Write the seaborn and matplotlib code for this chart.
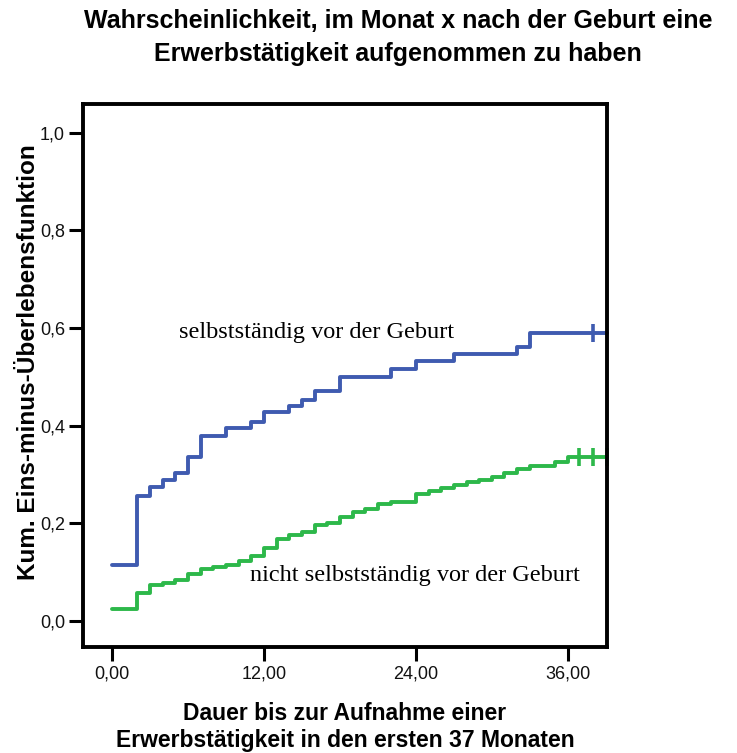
import numpy as np
import pandas as pd
import matplotlib.pyplot as plt
import matplotlib.ticker as mticker
import seaborn as sns

# Kaplan-Meier (1 - S(t)) step values
selb_t = [0, 2, 3, 4, 5, 6, 7, 9, 11, 12, 14, 15, 16, 18, 22, 24, 27, 32, 33]
selb_p = [0.115, 0.256, 0.275, 0.289, 0.303, 0.336, 0.379, 0.395, 0.408, 0.428,
          0.440, 0.453, 0.471, 0.500, 0.516, 0.533, 0.547, 0.561, 0.590]
selb_censor = [38.0]

nicht_t = [0, 2, 3, 4, 5, 6, 7, 8, 9, 10, 11, 12, 13, 14, 15, 16, 17, 18, 19, 20,
           21, 22, 24, 25, 26, 27, 28, 29, 30, 31, 32, 33, 35, 36]
nicht_p = [0.024, 0.058, 0.074, 0.079, 0.085, 0.096, 0.106, 0.110, 0.115, 0.123,
           0.133, 0.149, 0.168, 0.176, 0.182, 0.197, 0.201, 0.213, 0.223, 0.230,
           0.240, 0.244, 0.260, 0.266, 0.272, 0.279, 0.285, 0.289, 0.295, 0.303,
           0.311, 0.318, 0.326, 0.336]
nicht_censor = [36.9, 38.0, 39.1]

t_end = 39.1
x_ticks = [0, 12, 24, 36]
y_ticks = [0.0, 0.2, 0.4, 0.6, 0.8, 1.0]

blue = '#3F5BB0'
green = '#2DB84A'

sns.set_style('white')
plt.rcParams['font.family'] = ['Liberation Sans', 'DejaVu Sans']
plt.rcParams['text.color'] = 'black'
plt.rcParams['axes.labelcolor'] = 'black'

fig = plt.figure(figsize=(7.37, 7.53), dpi=100)
ax = fig.add_axes([83 / 737, 106 / 753, 524 / 737, 543 / 753])


def step_frame(t, p):
    return pd.DataFrame({'t': t + [t_end], 'p': p + [p[-1]]})


for t, p, cens, col in [(selb_t, selb_p, selb_censor, blue),
                        (nicht_t, nicht_p, nicht_censor, green)]:
    d = step_frame(t, p)
    sns.lineplot(data=d, x='t', y='p', drawstyle='steps-post', estimator=None,
                 color=col, lw=2.8, ax=ax, clip_on=False)
    ax.plot(cens, [p[-1]] * len(cens), ls='none', marker='|', ms=13, mew=2.6,
            color=col, clip_on=False)

ax.set_xlim(-2.3, t_end)
ax.set_ylim(-0.053, 1.059)
ax.set_xticks(x_ticks)
ax.set_yticks(y_ticks)
ax.xaxis.set_major_formatter(mticker.FuncFormatter(lambda v, _: f'{v:.2f}'.replace('.', ',')))
ax.yaxis.set_major_formatter(mticker.FuncFormatter(lambda v, _: f'{v:.1f}'.replace('.', ',')))
ax.tick_params(direction='out', length=10, width=2.2, color='black',
               labelsize=13, labelcolor='#111111', pad=3, bottom=True, left=True)
for s in ax.spines.values():
    s.set_visible(True)
    s.set_linewidth(2.8)
    s.set_color('black')

ax.set_xlabel('Dauer bis zur Aufnahme einer\nErwerbstätigkeit in den ersten 37 Monaten',
              fontsize=16.5, fontweight='bold', labelpad=14, linespacing=1.25)
ax.set_ylabel('Kum. Eins-minus-Überlebensfunktion', fontsize=17.5,
              fontweight='bold')
ax.yaxis.set_label_coords(-0.082, 0.525)

fig.text(0.54, 0.988, 'Wahrscheinlichkeit, im Monat x nach der Geburt eine\n'
         'Erwerbstätigkeit aufgenommen zu haben', ha='center', va='top',
         fontsize=18, fontweight='bold', linespacing=1.45)

ax.text(5.3, 0.592, 'selbstständig vor der Geburt', family='Liberation Serif',
        fontsize=17.5, va='center', ha='left')
ax.text(10.9, 0.094, 'nicht selbstständig vor der Geburt', family='Liberation Serif',
        fontsize=17.5, va='center', ha='left')

fig.savefig('out.png', dpi=100)
